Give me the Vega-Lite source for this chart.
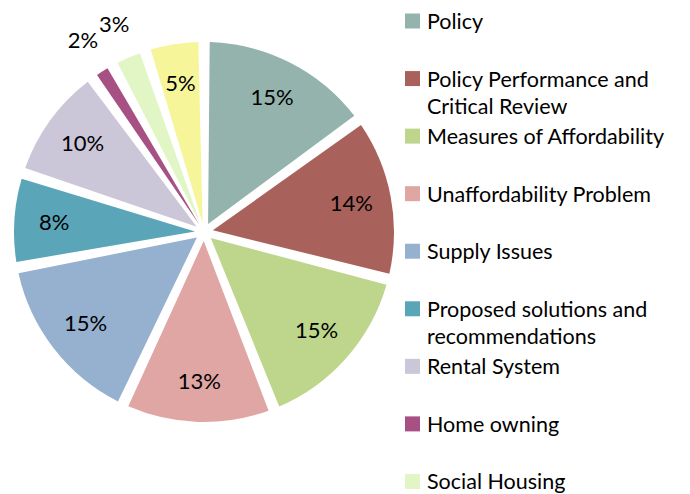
{
  "$schema": "https://vega.github.io/schema/vega-lite/v6.json",
  "padding": 0,
  "spacing": 0,
  "bounds": "flush",
  "config": {"view": {"stroke": null}, "font": "Lato"},
  "data": {
    "values": [
      {"order": 1, "category": "Policy", "legendLabel": "Policy", "value": 15, "label": "15%"},
      {"order": 2, "category": "Policy Performance and Critical Review", "legendLabel": "Policy Performance and\nCritical Review", "value": 14, "label": "14%"},
      {"order": 3, "category": "Measures of Affordability", "legendLabel": "Measures of Affordability", "value": 15, "label": "15%"},
      {"order": 4, "category": "Unaffordability Problem", "legendLabel": "Unaffordability Problem", "value": 13, "label": "13%"},
      {"order": 5, "category": "Supply Issues", "legendLabel": "Supply Issues", "value": 15, "label": "15%"},
      {"order": 6, "category": "Proposed solutions and recommendations", "legendLabel": "Proposed solutions and\nrecommendations", "value": 8, "label": "8%"},
      {"order": 7, "category": "Rental System", "legendLabel": "Rental System", "value": 10, "label": "10%"},
      {"order": 8, "category": "Home owning", "legendLabel": "Home owning", "value": 2, "label": "2%"},
      {"order": 9, "category": "Social Housing", "legendLabel": "Social Housing", "value": 3, "label": "3%"},
      {"order": 10, "category": "Other", "legendLabel": "Other", "value": 5, "label": "5%"}
    ]
  },
  "hconcat": [
    {
      "width": 408,
      "height": 464,
      "layer": [
        {
          "mark": {"type": "arc", "outerRadius": 190, "innerRadius": 9, "padAngle": 0.06},
          "encoding": {
            "theta": {"field": "value", "type": "quantitative", "stack": true},
            "order": {"field": "order", "type": "quantitative"},
            "color": {
              "field": "category", "type": "nominal", "legend": null,
              "scale": {
                "domain": ["Policy", "Policy Performance and Critical Review", "Measures of Affordability", "Unaffordability Problem", "Supply Issues", "Proposed solutions and recommendations", "Rental System", "Home owning", "Social Housing", "Other"],
                "range": ["#93B3AC", "#A9625B", "#BDD68C", "#E0A6A4", "#95B1CF", "#5AA6B8", "#CCC6D9", "#A65083", "#E2F5C4", "#F7F59A"]
              }
            }
          }
        },
        {
          "mark": {"type": "text", "radius": 150, "fontSize": 22, "color": "#000000", "clip": true},
          "encoding": {
            "theta": {"field": "value", "type": "quantitative", "stack": true},
            "order": {"field": "order", "type": "quantitative"},
            "text": {"condition": {"test": "datum.value >= 5", "field": "label"}, "value": ""}
          }
        },
        {
          "mark": {"type": "text", "radius": 226, "fontSize": 22, "color": "#000000", "clip": true},
          "encoding": {
            "theta": {"field": "value", "type": "quantitative", "stack": true},
            "order": {"field": "order", "type": "quantitative"},
            "text": {"condition": {"test": "datum.value < 5", "field": "label"}, "value": ""}
          }
        }
      ]
    },
    {
      "width": 9,
      "height": 494,
      "layer": [
        {
          "mark": {"type": "point", "shape": "square", "filled": true, "size": 225, "opacity": 1},
          "encoding": {
            "y": {
              "field": "category", "type": "nominal", "axis": null,
              "sort": ["Policy", "Policy Performance and Critical Review", "Measures of Affordability", "Unaffordability Problem", "Supply Issues", "Proposed solutions and recommendations", "Rental System", "Home owning", "Social Housing", "Other"],
              "scale": {"type": "point", "range": [21, 539], "padding": 0}
            },
            "color": {
              "field": "category", "type": "nominal", "legend": null,
              "scale": {
                "domain": ["Policy", "Policy Performance and Critical Review", "Measures of Affordability", "Unaffordability Problem", "Supply Issues", "Proposed solutions and recommendations", "Rental System", "Home owning", "Social Housing", "Other"],
                "range": ["#93B3AC", "#A9625B", "#9DB766", "#D49896", "#95B1CF", "#4F97A8", "#B8B2C6", "#A65083", "#E2F5C4", "#F7F59A"]
              }
            }
          }
        },
        {
          "mark": {"type": "text", "align": "left", "baseline": "alphabetic", "dx": 14.5, "dy": 8, "fontSize": 21.5, "lineHeight": 27, "lineBreak": "\n", "color": "#000000"},
          "encoding": {
            "y": {
              "field": "category", "type": "nominal", "axis": null,
              "sort": ["Policy", "Policy Performance and Critical Review", "Measures of Affordability", "Unaffordability Problem", "Supply Issues", "Proposed solutions and recommendations", "Rental System", "Home owning", "Social Housing", "Other"],
              "scale": {"type": "point", "range": [21, 539], "padding": 0}
            },
            "text": {"field": "legendLabel"}
          }
        }
      ]
    }
  ]
}
